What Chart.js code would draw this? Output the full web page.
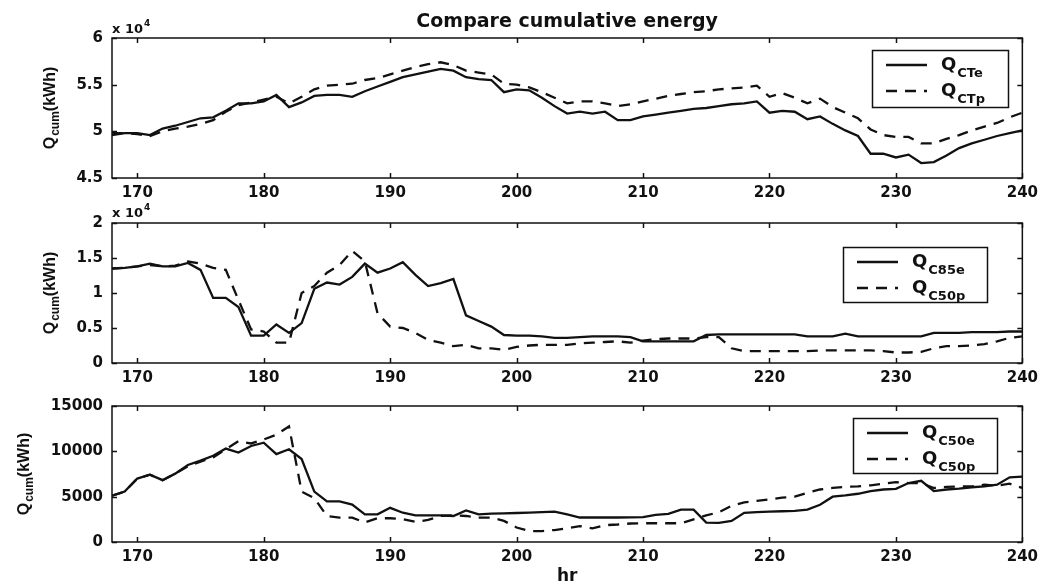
<!DOCTYPE html>
<html>
<head>
<meta charset="utf-8">
<title>Compare cumulative energy</title>
<script src="https://cdn.jsdelivr.net/npm/chart.js@4.4.1/dist/chart.umd.min.js"></script>
<style>
  html, body { margin: 0; padding: 0; background: #fff; }
  #wrap { position: relative; width: 1044px; height: 584px; overflow: hidden; }
  canvas { position: absolute; left: 0; }
</style>
</head>
<body>
<div id="wrap">
  <canvas id="c1" width="1044" height="200" style="top:0"></canvas>
  <canvas id="c2" width="1044" height="185" style="top:200px"></canvas>
  <canvas id="c3" width="1044" height="199" style="top:385px"></canvas>
</div>
<script>
// hour of the run (x axis)
const hours = [168,169,170,171,172,173,174,175,176,177,178,179,180,181,182,183,184,185,186,187,188,189,190,191,192,193,194,195,196,197,198,199,
  200,201,202,203,204,205,206,207,208,209,210,211,212,213,214,215,216,217,218,219,220,221,222,223,224,225,226,227,228,229,230,231,232,233,234,235,236,237,238,239,240];

// cooling tower, kWh
const qCTe = [49600,49800,49800,49600,50300,50600,51000,51400,51500,52200,53000,53000,53200,53900,52600,53100,53800,53900,53900,53700,54300,54800,55300,55800,56100,56400,56700,56500,55800,55600,55500,54200,
  54500,54400,53600,52700,51900,52100,51900,52100,51200,51200,51600,51800,52000,52200,52400,52500,52700,52900,53000,53200,52000,52200,52100,51300,51600,50800,50100,49500,47600,47600,47200,47500,46600,46700,47400,48200,48700,49100,49500,49800,50100];
const qCTp = [49800,49800,49700,49500,50000,50300,50500,50800,51200,52100,52800,53100,53400,53700,53000,53700,54500,54900,55000,55100,55500,55700,56100,56500,56900,57200,57400,57100,56500,56300,56100,55100,
  55000,54700,54200,53600,53000,53200,53200,53000,52700,52900,53200,53500,53800,54000,54200,54300,54500,54600,54700,54900,53700,54100,53600,53000,53500,52600,52000,51400,50200,49600,49400,49400,48700,48700,49200,49600,50100,50500,50900,51500,52000];

// chiller 85 / chiller 50, kWh
const qC85e = [13500,13600,13800,14200,13800,13800,14300,13300,9300,9300,8000,3900,3900,5500,4300,5700,10600,11500,11200,12300,14200,12900,13500,14400,12600,11000,11400,12000,6800,6000,5200,4000,
  3900,3900,3800,3600,3600,3700,3800,3800,3800,3700,3100,3100,3100,3100,3100,4000,4100,4100,4100,4100,4100,4100,4100,3800,3800,3800,4200,3800,3800,3800,3800,3800,3800,4300,4300,4300,4400,4400,4400,4500,4500];
const qC50pMid = [13500,13600,13800,14000,13800,13900,14500,14200,13600,13300,9000,4800,4500,2900,2900,10000,11000,12900,14000,16000,14500,7100,5200,5000,4300,3300,2900,2400,2600,2100,2100,1900,
  2300,2500,2600,2600,2600,2800,2900,3000,3100,2900,3200,3400,3500,3500,3500,3700,3700,2100,1700,1700,1700,1700,1700,1700,1800,1800,1800,1800,1800,1700,1500,1500,1600,2100,2400,2400,2500,2700,3100,3600,3800];

// chiller 50, kWh
const qC50e = [5100,5560,7000,7430,6820,7540,8500,8970,9510,10300,9870,10590,10950,9690,10230,9150,5560,4490,4490,4130,3050,3050,3770,3230,2940,2940,2940,2870,3480,3050,3120,3160,
  3200,3250,3300,3360,3040,2700,2700,2700,2700,2720,2750,3000,3110,3570,3570,2140,2110,2320,3210,3290,3360,3390,3430,3570,4110,5000,5140,5320,5610,5790,5860,6500,6750,5610,5790,5890,6040,6140,6320,7140,7210];
const qC50p = [5100,5560,7000,7430,6820,7540,8360,8860,9330,10230,11120,10870,11300,11840,12740,5560,4840,2870,2690,2690,2150,2620,2620,2510,2220,2440,2870,2940,2870,2690,2690,2330,
  1600,1210,1210,1320,1500,1750,1500,1860,1930,2040,2070,2070,2070,2070,2500,2930,3290,4000,4360,4540,4710,4890,5000,5430,5790,5960,6070,6140,6250,6430,6610,6500,6500,5960,6070,6140,6140,6320,6210,6430,5960];

const INK = '#111';
const FAMILY = 'DejaVu Sans';
const VFAMILY = 'Liberation Sans';

function pts(vals) { return hours.map((h, i) => ({ x: h, y: vals[i] })); }

function solid(label, vals) {
  return { label, data: pts(vals), borderColor: INK, borderWidth: 2.3, pointRadius: 0, tension: 0 };
}
function dashed(label, vals) {
  return { label, data: pts(vals), borderColor: INK, borderWidth: 2.3, borderDash: [11, 8], pointRadius: 0, tension: 0 };
}

// text with a lowered (or raised) second part, returns end x
function subText(ctx, x, y, main, sub, mainPx, subPx, shift, family) {
  ctx.font = `bold ${mainPx}px "${family}"`;
  ctx.fillText(main, x, y);
  const w = ctx.measureText(main).width;
  ctx.font = `bold ${subPx}px "${family}"`;
  ctx.fillText(sub, x + w + 1, y + shift);
  return x + w + 1 + ctx.measureText(sub).width;
}

// matlab-like box, inward ticks, labels and legend
const figurePlugin = {
  id: 'figure',
  afterDraw(chart, args, opts) {
    const { ctx, chartArea: a } = chart;
    const xs = chart.scales.x, ys = chart.scales.y;
    ctx.save();
    ctx.strokeStyle = INK;
    ctx.lineWidth = 1.5;
    ctx.strokeRect(a.left, a.top, a.width, a.height);
    ctx.beginPath();
    xs.ticks.forEach(t => {
      const px = Math.round(xs.getPixelForValue(t.value)) + 0.5;
      ctx.moveTo(px, a.bottom); ctx.lineTo(px, a.bottom - 5);
      ctx.moveTo(px, a.top); ctx.lineTo(px, a.top + 5);
    });
    ys.ticks.forEach(t => {
      const py = Math.round(ys.getPixelForValue(t.value)) + 0.5;
      ctx.moveTo(a.left, py); ctx.lineTo(a.left + 5, py);
      ctx.moveTo(a.right, py); ctx.lineTo(a.right - 5, py);
    });
    ctx.stroke();

    ctx.fillStyle = INK;
    ctx.textBaseline = 'alphabetic';

    if (opts.title) {
      ctx.font = `bold 19px "${FAMILY}"`;
      ctx.textAlign = 'center';
      ctx.fillText(opts.title, (a.left + a.right) / 2, opts.titleY);
    }
    if (opts.xTitle) {
      ctx.font = `bold 17px "${FAMILY}"`;
      ctx.textAlign = 'center';
      ctx.fillText(opts.xTitle, (a.left + a.right) / 2, opts.xTitleY);
    }
    ctx.textAlign = 'left';
    if (opts.exponent) {
      subText(ctx, a.left, opts.exponentY, 'x 10', '4', 13, 9, -7, FAMILY);
    }

    // rotated y title: Q_cum(kWh)
    ctx.save();
    ctx.translate(opts.yTitleX, (a.top + a.bottom) / 2);
    ctx.rotate(-Math.PI / 2);
    ctx.font = `bold 16px "${VFAMILY}"`;
    const wQ = ctx.measureText('Q').width;
    const wU = ctx.measureText('(kWh)').width;
    ctx.font = `bold 12px "${VFAMILY}"`;
    const wS = ctx.measureText('cum').width;
    const sx = -(wQ + wS + wU + 1) / 2;
    const endSub = subText(ctx, sx, 0, 'Q', 'cum', 16, 12, 4, VFAMILY);
    ctx.font = `bold 16px "${VFAMILY}"`;
    ctx.fillText('(kWh)', endSub, 0);
    ctx.restore();

    const lg = opts.legend;
    if (lg) {
      ctx.fillStyle = '#fff';
      ctx.fillRect(lg.left, lg.top, lg.width, lg.height);
      ctx.strokeStyle = INK;
      ctx.lineWidth = 1.5;
      ctx.setLineDash([]);
      ctx.strokeRect(lg.left + 0.5, lg.top + 0.5, lg.width, lg.height);
      lg.items.forEach((it, i) => {
        const ds = chart.data.datasets[i];
        const ly = lg.top + 15 + i * 26;
        ctx.strokeStyle = ds.borderColor;
        ctx.lineWidth = 2.6;
        ctx.setLineDash(ds.borderDash || []);
        ctx.beginPath();
        ctx.moveTo(lg.left + 14, ly);
        ctx.lineTo(lg.left + 55, ly);
        ctx.stroke();
        ctx.setLineDash([]);
        ctx.fillStyle = INK;
        subText(ctx, lg.left + 69, ly + 5, 'Q', it, 18, 13, 7, FAMILY);
      });
    }
    ctx.restore();
  }
};

function makeChart(id, datasets, yMin, yMax, yStep, yFmt, padTop, xAxisH, fig) {
  return new Chart(document.getElementById(id), {
    type: 'line',
    data: { datasets },
    options: {
      responsive: false,
      animation: false,
      events: [],
      layout: { padding: { top: padTop, right: 21, bottom: 0, left: 0 } },
      plugins: { legend: { display: false }, tooltip: { enabled: false }, figure: fig },
      scales: {
        x: {
          type: 'linear', min: 168, max: 240,
          grid: { display: false, drawTicks: false },
          border: { display: false },
          ticks: { stepSize: 10, includeBounds: false, padding: 6, color: INK, maxRotation: 0,
            font: { family: FAMILY, size: 15, weight: 'bold' } },
          afterFit: s => { s.height = xAxisH; }
        },
        y: {
          min: yMin, max: yMax,
          grid: { display: false, drawTicks: false },
          border: { display: false },
          ticks: { stepSize: yStep, includeBounds: false, padding: 9, color: INK,
            font: { family: FAMILY, size: 15, weight: 'bold' }, callback: yFmt },
          afterFit: s => { s.width = 112; }
        }
      }
    },
    plugins: [figurePlugin]
  });
}

const per1e4 = v => String(Math.round(v / 1000) / 10);
const plain = v => String(v);

makeChart('c1', [solid('CTe', qCTe), dashed('CTp', qCTp)], 45000, 60000, 5000, per1e4, 38, 22, {
  title: 'Compare cumulative energy', titleY: 27,
  exponent: true, exponentY: 33, yTitleX: 55,
  legend: { left: 872, top: 50, width: 136, height: 57, items: ['CTe', 'CTp'] }
});

makeChart('c2', [solid('C85e', qC85e), dashed('C50p', qC50pMid)], 0, 20000, 5000, per1e4, 23, 22, {
  exponent: true, exponentY: 17, yTitleX: 55,
  legend: { left: 843, top: 47, width: 144, height: 55, items: ['C85e', 'C50p'] }
});

makeChart('c3', [solid('C50e', qC50e), dashed('C50p', qC50p)], 0, 15000, 5000, plain, 21, 42, {
  xTitle: 'hr', xTitleY: 196, yTitleX: 29,
  legend: { left: 853, top: 33, width: 144, height: 55, items: ['C50e', 'C50p'] }
});
</script>
</body>
</html>
